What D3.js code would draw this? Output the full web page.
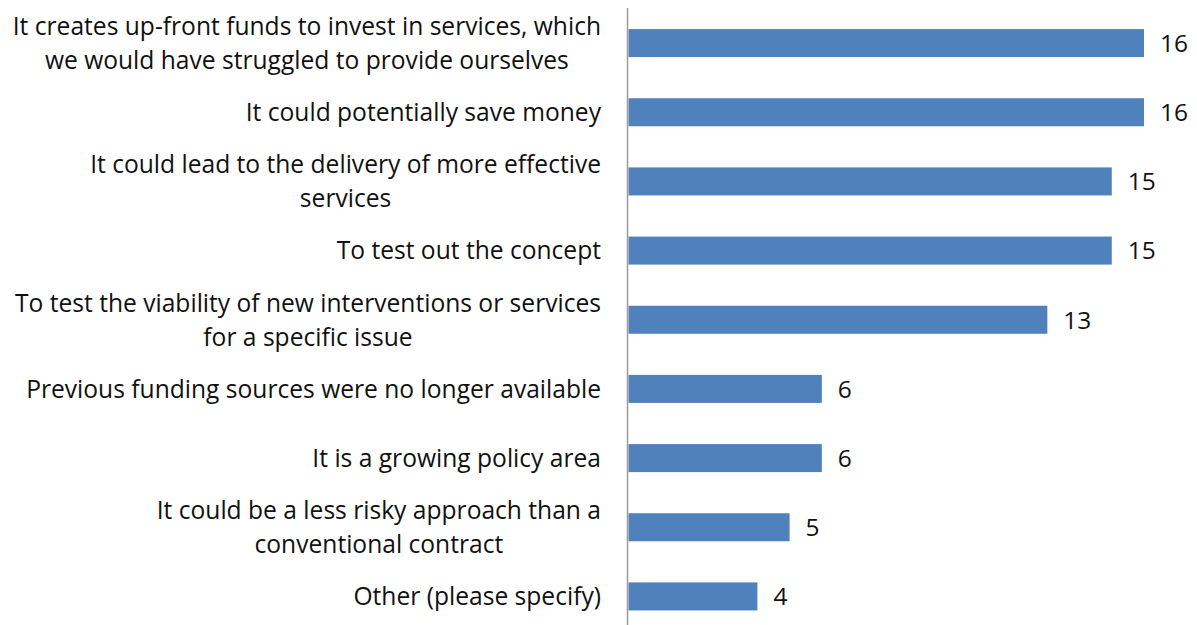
<!DOCTYPE html>
<html>
<head>
<meta charset="utf-8">
<script src="https://cdn.jsdelivr.net/npm/d3@7"></script>
<style>
  body { margin: 0; background: #fff; }
  text { font-family: "Open Sans", sans-serif; fill: #111; }
</style>
</head>
<body>
<div id="chart"></div>
<script>
// reasons, split into the lines as shown on the chart
var categories = [
  "It creates up-front funds to invest in services, which\nwe would have struggled to provide ourselves",
  "It could potentially save money",
  "It could lead to the delivery of more effective\nservices",
  "To test out the concept",
  "To test the viability of new interventions or services\nfor a specific issue",
  "Previous funding sources were no longer available",
  "It is a growing policy area",
  "It could be a less risky approach than a\nconventional contract",
  "Other (please specify)"
];
var values = [16, 16, 15, 15, 13, 6, 6, 5, 4];

var width = 1197, height = 625;
var x0 = 628.5;
var labelRight = 601;

var svg = d3.select("#chart").append("svg")
  .attr("width", width)
  .attr("height", height);

var x = d3.scaleLinear().domain([0, 16]).range([x0, 1144]);
var y = d3.scaleBand().domain(categories)
  .range([8.5, 631])
  .paddingInner(0.595)
  .paddingOuter(0.2975);

// bars
svg.selectAll("rect.bar").data(categories)
  .enter().append("rect")
    .attr("class", "bar")
    .attr("x", x(0))
    .attr("y", d => y(d))
    .attr("width", (d, i) => x(values[i]) - x(0))
    .attr("height", y.bandwidth())
    .attr("fill", "#4f81bd");

// value labels
svg.selectAll("text.val").data(categories)
  .enter().append("text")
    .attr("class", "val")
    .attr("x", (d, i) => x(values[i]) + 16)
    .attr("y", d => y(d) + y.bandwidth() / 2)
    .attr("dy", "0.36em")
    .style("font-size", "24.5px")
    .text((d, i) => values[i]);

// category axis, drawn by hand so labels can wrap
var axis = svg.append("g");
axis.append("line")
  .attr("x1", x0 - 1).attr("x2", x0 - 1)
  .attr("y1", 8).attr("y2", height)
  .attr("stroke", "#9a9a9a")
  .attr("stroke-width", 1.5);

var lineH = 34;
var labels = axis.selectAll("text.cat").data(categories)
  .enter().append("text")
    .attr("class", "cat")
    .style("font-size", "24.6px");

labels.each(function(d) {
  var lines = d.split("\n");
  var cy = y(d) + y.bandwidth() / 2;
  var t = d3.select(this);
  var spans = lines.map(function(l, k) {
    return t.append("tspan")
      .attr("y", cy + (k - (lines.length - 1) / 2) * lineH)
      .attr("dy", "0.36em")
      .text(l);
  });
  // wrapped labels are centred on their widest line, the block sits right-aligned
  var w = d3.max(spans, s => s.node().getComputedTextLength());
  if (lines.length > 1) {
    t.attr("text-anchor", "middle");
    spans.forEach(s => s.attr("x", labelRight - w / 2));
  } else {
    t.attr("text-anchor", "end");
    spans.forEach(s => s.attr("x", labelRight));
  }
});
</script>
</body>
</html>
